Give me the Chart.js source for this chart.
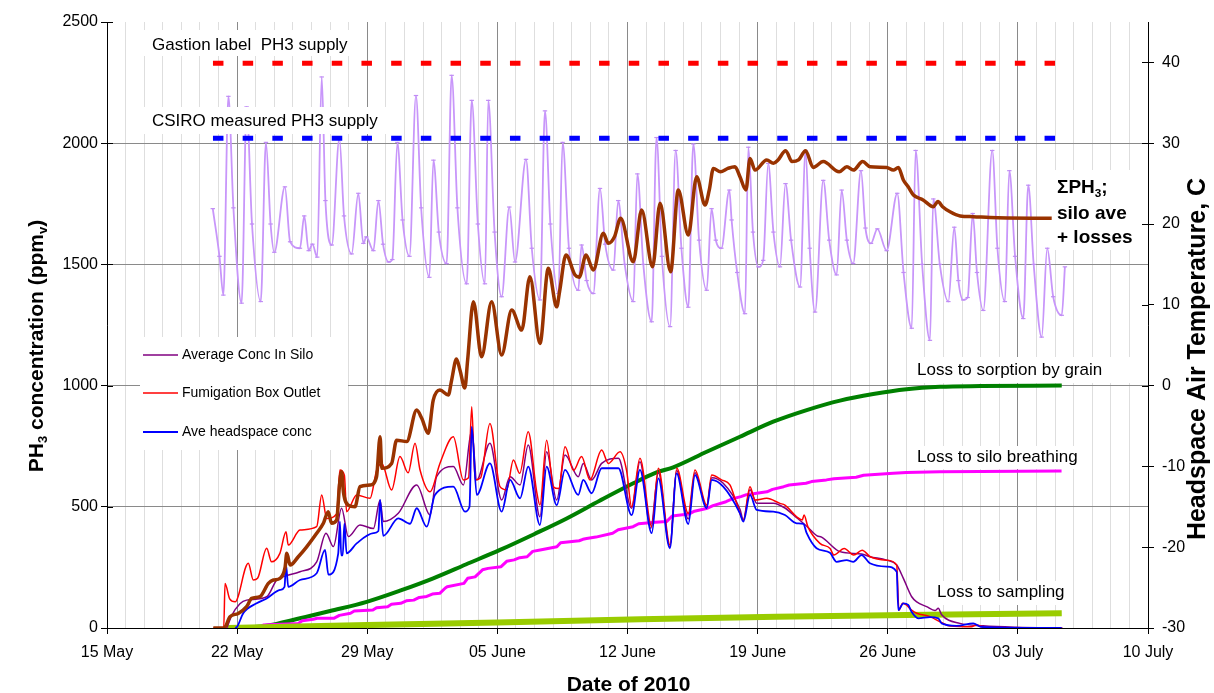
<!DOCTYPE html>
<html>
<head>
<meta charset="utf-8">
<title>PH3 silo fumigation 2010</title>
<script src="https://cdn.jsdelivr.net/npm/chart.js@4.4.1/dist/chart.umd.min.js"></script>
<style>
  html, body { margin: 0; padding: 0; background: #fff; }
  #wrap { width: 1214px; height: 693px; position: relative; }
</style>
</head>
<body>
<div id="wrap"><canvas id="c" width="1214" height="693"></canvas></div>
<script>
// ---- axis ticks (x values are days after 15 May 2010) ----
const dateTicks = ['15 May', '22 May', '29 May', '05 June', '12 June', '19 June', '26 June', '03 July', '10 July'];
const concTicks = [0, 500, 1000, 1500, 2000, 2500];
const tempTicks = [-30, -20, -10, 0, 10, 20, 30, 40];

// ---- phosphine supply levels (ppm) and the period they span ----
const gastionSupply = 2330;
const csiroSupply = 2020;
const supplySpan = [5.7, 51.0];

// ---- headspace air temperature, C  [day, value] ----
const temperature = [
  [5.69,21.9],[6.05,16.0],[6.26,11.2],
  [6.53,35.8],[6.8,22.0],[7.24,10.2],
  [7.51,34.5],[7.8,20.0],[8.27,10.4],
  [8.55,30.1],[8.8,20.0],[9.0,16.5],
  [9.57,24.6],[9.85,17.8],[10.38,17.0],
  [10.61,21.0],[10.85,16.7],[11.05,17.5],[11.31,15.9],
  [11.55,38.2],[11.75,22.9],[12.09,17.4],
  [12.5,30.6],[12.75,21.0],[13.16,16.3],
  [13.52,23.8],[13.79,17.6],[13.95,18.4],[14.33,16.7],
  [14.6,22.9],[14.85,17.5],[15.15,15.3],[15.35,15.6],
  [15.62,30.1],[15.9,20.5],[16.27,16.0],
  [16.62,35.9],[16.9,22.0],[17.34,13.4],
  [17.56,27.9],[17.85,19.0],[18.27,15.1],
  [18.54,38.4],[18.85,22.0],[19.35,12.6],
  [19.62,35.3],[19.95,20.0],[20.33,12.6],
  [20.51,35.3],[20.85,19.0],[21.23,11.0],
  [21.64,22.1],[21.95,15.3],
  [22.54,28.0],[22.85,17.0],[23.29,10.6],
  [23.56,34.0],[23.85,20.0],[24.28,11.4],
  [24.51,30.1],[24.85,17.0],[25.35,11.8],
  [25.53,17.4],[25.8,13.0],[26.16,11.4],
  [26.52,24.4],[26.8,17.5],[27.24,14.3],
  [27.5,22.9],[27.85,15.0],[28.31,10.4],
  [28.53,26.2],[28.85,15.0],[29.3,7.9],
  [29.56,30.7],[29.85,16.0],[30.29,7.3],
  [30.59,29.1],[30.9,17.0],[31.27,9.7],
  [31.54,29.9],[31.85,18.0],[32.26,11.8],
  [32.52,21.9],[32.75,18.0],[33.05,17.0],
  [33.48,24.2],[33.6,20.5],[33.9,14.0],[34.32,8.9],
  [34.5,29.5],[34.75,19.0],[35.04,14.7],[35.3,15.5],
  [35.57,27.5],[35.85,19.0],[36.2,14.7],
  [36.5,25.0],[36.8,18.0],[37.28,12.2],
  [37.58,29.1],[37.8,17.0],[38.09,9.1],
  [38.53,25.4],[38.85,18.0],[39.25,13.7],
  [39.52,24.2],[39.8,18.0],[40.14,15.1],
  [40.56,26.6],[40.8,19.5],[41.1,17.6],
  [41.44,19.4],[41.94,16.7],
  [42.51,23.8],[42.85,14.0],[43.29,7.1],
  [43.5,29.1],[43.85,15.0],[44.27,5.6],
  [44.45,23.1],[44.8,15.0],[45.26,10.4],
  [45.58,19.6],[45.8,13.0],[46.06,10.6],[46.3,10.9],
  [46.57,21.3],[46.8,14.0],[47.14,9.3],
  [47.62,29.1],[47.9,17.0],[48.3,10.4],
  [48.54,26.6],[48.85,16.0],[49.29,8.3],
  [49.56,24.8],[49.85,15.0],[50.28,6.0],
  [50.58,17.0],[50.9,11.0],[51.36,8.7],
  [51.53,14.7]
];

// ---- sum of PH3: silo average + losses (ppm) ----
const sumPH3 = [
  [5.72,0],[6.3,0],[6.62,47],[7.06,60],[7.51,88],[7.78,122],[8.23,129],[8.68,184],[8.95,198],
  [9.31,205],[9.58,250],[9.67,308],[9.85,260],[10.29,294],[10.74,335],[11.28,391],[11.64,432],
  [11.9,480],[12.08,432],[12.35,445],[12.52,600],[12.62,645],[12.72,560],[12.98,507],[13.34,500],
  [13.61,583],[14.15,590],[14.5,624],[14.69,789],[14.78,659],[15.31,679],[15.58,775],[16.12,769],
  [16.66,899],[16.93,865],[17.28,803],[17.55,940],[17.91,982],[18.36,961],[18.54,1023],[18.8,1110],
  [19.0,1060],[19.25,990],[19.4,1105],[19.71,1346],[20.15,1119],[20.69,1346],[21.23,1126],
  [21.77,1312],[22.31,1229],[22.75,1449],[23.29,1174],[23.74,1484],[24.19,1325],[24.35,1390],
  [24.69,1539],[25.18,1456],[25.4,1447],[25.77,1539],[26.16,1477],[26.7,1628],[26.97,1587],
  [27.3,1614],[27.63,1690],[28.31,1511],[28.76,1724],[29.35,1490],[29.75,1752],[30.32,1470],
  [30.73,1807],[31.27,1621],[31.72,1862],[32.17,1745],[32.4,1807],[32.62,1896],[33.0,1882],
  [33.4,1896],[33.78,1903],[34.05,1862],[34.37,1807],[34.59,1937],[34.86,1889],[35.49,1931],
  [35.85,1917],[36.1,1931],[36.51,1969],[36.85,1924],[37.2,1931],[37.58,1969],[37.99,1900],
  [38.53,1924],[39.39,1882],[39.8,1903],[40.15,1889],[40.65,1924],[41.05,1903],[41.94,1900],
  [42.3,1889],[42.57,1900],[42.84,1848],[43.1,1820],[43.38,1786],[43.9,1766],[44.45,1738],
  [44.7,1759],[44.95,1738],[45.35,1717],[45.89,1700],[46.6,1697],[47.5,1693],[50.82,1690]
];

// ---- measured concentrations (ppm) ----
const avgConcSilo = [
  [6.45,0],[6.7,50],[7.15,100],[7.51,115],[8.59,129],[9.13,198],[9.49,212],[10.38,232],[11.28,273],
  [11.78,391],[12.18,336],[12.62,494],[12.98,377],[13.61,425],[14.33,410],[14.69,528],[14.86,439],
  [15.67,473],[16.66,590],[17.38,466],[17.73,624],[18.63,666],[19.17,590],[19.62,817],[19.89,611],
  [20.6,762],[21.23,528],[21.68,624],[22.22,590],[22.66,755],[23.29,459],[23.65,727],[24.19,528],
  [24.64,714],[25.35,624],[25.62,679],[26.07,611],[26.61,679],[27.51,700],[28.22,494],[28.67,686],
  [29.25,411],[29.66,640],[30.28,335],[30.64,650],[31.27,450],[31.63,640],[32.26,500],[32.53,620],
  [33.15,597],[34.05,490],[34.23,445],[34.59,570],[34.95,515],[35.84,515],[36.47,495],[37.1,455],
  [37.64,420],[38.2,380],[38.44,375],[39.43,315],[40.6,305],[41.04,294],[41.94,280],[42.48,260],
  [42.84,205],[43.29,129],[43.56,108],[44.09,88],[44.54,72],[44.72,81],[44.9,55],[45.88,19],
  [47.13,9],[48.93,3],[51.4,0]
];
const boxOutlet = [
  [5.72,0],[6.28,0],[6.35,184],[6.6,120],[6.89,108],[7.6,267],[7.87,198],[8.1,205],[8.59,329],
  [8.85,273],[9.3,308],[9.63,397],[9.75,342],[10.38,404],[11.28,418],[11.55,549],[11.82,452],
  [12.35,470],[12.53,652],[12.77,630],[12.89,480],[13.43,549],[14.15,535],[14.51,652],[14.78,679],
  [15.31,569],[15.76,707],[16.2,640],[16.57,762],[16.84,652],[17.38,562],[17.91,679],[18.63,789],
  [19.17,611],[19.45,620],[19.62,913],[19.8,611],[20.1,620],[20.6,844],[21.14,583],[21.5,570],
  [21.86,693],[22.2,638],[22.66,810],[23.1,569],[23.29,507],[23.65,775],[24.01,583],[24.3,575],
  [24.64,748],[25.1,650],[25.53,707],[25.98,611],[26.61,734],[26.97,679],[27.6,727],[27.95,650],
  [28.22,500],[28.67,700],[29.3,418],[29.66,659],[30.29,342],[30.65,659],[31.27,473],[31.63,652],
  [32.26,507],[32.53,631],[33.06,611],[33.51,590],[33.87,514],[34.23,446],[34.59,583],[34.86,528],
  [35.49,535],[36.2,514],[36.47,507],[37.1,459],[37.4,446],[37.5,466],[37.7,418],[38.35,349],
  [38.9,328],[39.1,301],[39.66,328],[40.17,301],[40.62,321],[41.06,294],[41.94,280],[42.48,260],
  [42.6,74],[42.8,102],[43.0,95],[43.28,74],[43.56,61],[44.27,47],[44.81,26],[45.35,8],[46.5,5],
  [46.78,12],[47.2,2],[51.36,0]
];
const headspaceConc = [
  [6.9,0],[7.0,5],[7.33,61],[8.05,102],[8.59,122],[9.31,157],[9.55,170],[9.63,260],[9.75,170],
  [10.38,198],[11.28,226],[11.73,322],[11.91,220],[12.44,308],[12.53,439],[12.6,300],[12.68,300],
  [12.77,430],[12.89,308],[13.43,349],[14.33,391],[14.6,400],[14.69,528],[14.86,380],[15.67,452],
  [16.3,430],[16.66,494],[17.2,418],[17.64,549],[18.63,583],[19.26,480],[19.5,500],[19.62,831],
  [19.89,549],[20.6,679],[21.23,480],[21.68,611],[22.22,535],[22.66,666],[23.29,425],[23.65,666],
  [24.19,507],[24.64,652],[25.35,549],[25.62,611],[26.07,556],[26.61,659],[27.51,659],[28.22,466],
  [28.67,652],[29.3,391],[29.66,617],[30.28,329],[30.64,638],[31.27,429],[31.63,631],[32.26,494],
  [32.53,611],[33.15,583],[34.05,473],[34.23,439],[34.59,549],[34.95,487],[35.84,480],[36.47,466],
  [37.1,432],[37.46,430],[37.64,391],[38.17,329],[38.89,310],[39.25,273],[39.79,280],[40.15,273],
  [40.59,301],[41.04,267],[41.94,253],[42.48,232],[42.57,74],[42.84,102],[43.1,95],[43.28,67],
  [43.64,40],[44.27,45],[44.72,40],[44.9,19],[45.7,9],[46.6,19],[47.0,5],[51.35,0]
];

// ---- loss terms (ppm) ----
const lossSorption = [
  [7.0,0],[8.5,8],[10.38,40],[12.0,70],[13.97,108],[15.8,155],[17.55,205],[19.3,262],[21.14,322],
  [23.0,388],[24.73,452],[26.5,525],[28.31,597],[29.5,640],[30.46,663],[32.26,727],[34.05,789],
  [35.84,851],[37.64,899],[39.43,938],[41.22,965],[43.01,985],[44.81,995],[47.0,998],[51.36,1000]
];
const lossBreathing = [
  [6.9,0],[8.2,0],[8.4,12],[10.3,19],[10.5,30],[11.1,36],[11.3,40],[12.2,40],[12.5,52],[13.1,61],
  [13.3,70],[14.3,74],[14.5,84],[15.1,88],[15.3,98],[15.8,102],[16.1,112],[16.5,115],[16.8,126],
  [17.2,130],[17.5,140],[17.9,143],[18.2,165],[18.3,170],[19.2,184],[19.4,205],[19.8,211],
  [20.2,240],[20.5,246],[21.2,253],[21.5,275],[21.9,281],[22.2,290],[22.6,294],[22.9,316],
  [23.3,322],[24.2,335],[24.4,352],[25.4,360],[25.6,366],[25.8,369],[26.3,375],[27.2,391],
  [27.5,405],[28.3,418],[28.6,430],[29.5,436],[30.1,439],[30.4,462],[31.3,470],[31.6,482],
  [32.3,494],[32.6,505],[33.3,521],[33.6,532],[34.1,542],[34.4,550],[35.5,562],[35.8,572],
  [36.4,583],[36.7,590],[37.6,597],[37.9,604],[38.7,611],[39.1,616],[40.3,622],[40.7,630],
  [42.3,638],[43.0,642],[44.8,645],[51.35,648]
];
const lossSampling = [
  [6.5,0],[14.0,12],[21.0,23],[28.7,36],[36.0,46],[43.0,54],[51.36,61]
];

// ---- text ----
const legendNames = ['Average Conc In Silo', 'Fumigation Box Outlet', 'Ave headspace conc'];
const FONT = "'Liberation Sans', Arial, Helvetica, sans-serif";

const xy = a => a.map(p => ({ x: p[0], y: p[1] }));
const line = (data, color, width, axis, order, extra) => Object.assign({
  data: xy(data), borderColor: color, backgroundColor: color, borderWidth: width,
  pointRadius: 0, yAxisID: axis, order: order, fill: false,
  cubicInterpolationMode: 'monotone', borderJoinStyle: 'round'
}, extra || {});

const datasets = [
  line(sumPH3, '#993300', 3.5, 'y', 0, { label: 'ΣPH3' }),
  line([[supplySpan[0], gastionSupply], [supplySpan[1], gastionSupply]], '#ff0000', 5, 'y', 1,
       { label: 'Gastion label PH3 supply', borderDash: [10.5, 19.2], borderCapStyle: 'butt' }),
  line([[supplySpan[0], csiroSupply], [supplySpan[1], csiroSupply]], '#0000ff', 5, 'y', 1,
       { label: 'CSIRO measured PH3 supply', borderDash: [10.5, 19.2], borderCapStyle: 'butt' }),
  line(headspaceConc, '#0000ff', 1.8, 'y', 2, { label: legendNames[2] }),
  line(boxOutlet, '#ff0000', 1.5, 'y', 3, { label: legendNames[1] }),
  line(avgConcSilo, '#800080', 1.5, 'y', 4, { label: legendNames[0] }),
  line(lossSampling, '#99cc00', 6, 'y', 5, { label: 'Loss to sampling', cubicInterpolationMode: 'default' }),
  line(lossBreathing, '#ff00ff', 3, 'y', 5, { label: 'Loss to silo breathing', cubicInterpolationMode: 'default' }),
  line(lossSorption, '#008000', 4, 'y', 5, { label: 'Loss to sorption by grain' }),
  line(temperature, '#c896fa', 1.8, 'y2', 6, {
    label: 'Headspace Air Temperature', pointRadius: 2.2, pointStyle: 'line',
    pointBorderWidth: 1.2, pointBorderColor: '#c08cf5'
  })
];

// draws a string made of normal and subscript pieces
function richText(ctx, parts, x, y, size, bold, align) {
  const f = s => (bold ? 'bold ' : '') + s + 'px ' + FONT;
  let total = 0;
  parts.forEach(([t, sub]) => { ctx.font = f(sub ? size * 0.62 : size); total += ctx.measureText(t).width; });
  let cx = align === 'center' ? x - total / 2 : x;
  ctx.textBaseline = 'alphabetic';
  ctx.textAlign = 'left';
  parts.forEach(([t, sub]) => {
    ctx.font = f(sub ? size * 0.62 : size);
    ctx.fillText(t, cx, y + (sub ? size * 0.2 : 0));
    cx += ctx.measureText(t).width;
  });
}

function whiteBox(ctx, x0, y0, x1, y1) {
  ctx.fillStyle = '#ffffff';
  ctx.fillRect(x0, y0, x1 - x0, y1 - y0);
}

const annotations = {
  id: 'annotations',
  afterDatasetsDraw(chart) {
    const ctx = chart.ctx;
    const sy = chart.scales.y, sy2 = chart.scales.y2;
    const area = chart.chartArea;
    ctx.save();

    // label backgrounds
    whiteBox(ctx, 143, 30, 363, 56);
    whiteBox(ctx, 143, 107, 386, 134);
    whiteBox(ctx, 140, 337, 348, 450);
    whiteBox(ctx, area.right - 96, 170, area.right - 1, 250);
    whiteBox(ctx, 908, 357, area.right - 1, 383);
    whiteBox(ctx, 908, 446, 1090, 469);
    whiteBox(ctx, 930, 581, 1070, 605);

    ctx.fillStyle = '#000';
    ctx.textBaseline = 'middle';
    ctx.textAlign = 'left';
    ctx.font = '17px ' + FONT;
    ctx.fillText('Gastion label  PH3 supply', 152, 45);
    ctx.fillText('CSIRO measured PH3 supply', 152, 121);
    ctx.fillText('Loss to sorption by grain', 917, 370);
    ctx.fillText('Loss to silo breathing', 917, 457);
    ctx.fillText('Loss to sampling', 937, 592);

    // ΣPH3 label
    ctx.fillStyle = '#000';
    richText(ctx, [['ΣPH', 0], ['3', 1], [';', 0]], 1057, 193, 19, true, 'left');
    ctx.font = 'bold 19px ' + FONT;
    ctx.textBaseline = 'alphabetic';
    ctx.fillText('silo ave', 1057, 219);
    ctx.fillText('+ losses', 1057, 243);

    // legend
    const legendColors = ['#800080', '#ff0000', '#0000ff'];
    const legendWidths = [1.5, 1.5, 2];
    const rows = [355, 393, 432];
    ctx.font = '14px ' + FONT;
    ctx.textBaseline = 'middle';
    rows.forEach((ry, i) => {
      ctx.strokeStyle = legendColors[i];
      ctx.lineWidth = legendWidths[i];
      ctx.beginPath(); ctx.moveTo(143, ry); ctx.lineTo(178, ry); ctx.stroke();
      ctx.fillStyle = '#000';
      ctx.fillText(legendNames[i], 182, ry);
    });

    // inner halves of the cross-style tick marks
    ctx.strokeStyle = '#000';
    ctx.lineWidth = 1;
    concTicks.forEach(v => {
      const py = Math.round(sy.getPixelForValue(v)) + 0.5;
      ctx.beginPath(); ctx.moveTo(area.left, py); ctx.lineTo(area.left + 6, py); ctx.stroke();
    });
    tempTicks.forEach(v => {
      const py = Math.round(sy2.getPixelForValue(v)) + 0.5;
      ctx.beginPath(); ctx.moveTo(area.right - 6, py); ctx.lineTo(area.right, py); ctx.stroke();
    });

    // axis titles
    ctx.fillStyle = '#000';
    ctx.save();
    ctx.translate(36, 346);
    ctx.rotate(-Math.PI / 2);
    richText(ctx, [['PH', 0], ['3', 1], [' concentration (ppm', 0], ['v', 1], [')', 0]], 0, 7, 21, true, 'center');
    ctx.restore();
    ctx.save();
    ctx.translate(1196, 359);
    ctx.rotate(-Math.PI / 2);
    richText(ctx, [['Headspace Air Temperature, C', 0]], 0, 9, 25, true, 'center');
    ctx.restore();
    richText(ctx, [['Date of 2010', 0]], (area.left + area.right) / 2 + 1, 691, 21, true, 'center');

    ctx.restore();
  }
};

const dayGrid = Array.from({ length: 57 }, (_, i) => i);
const tickFont = { family: FONT, size: 16 };

new Chart(document.getElementById('c'), {
  type: 'line',
  data: { datasets },
  plugins: [annotations],
  options: {
    responsive: false,
    animation: false,
    devicePixelRatio: 1,
    layout: { padding: { top: 22, left: 0, right: 0, bottom: 0 } },
    plugins: { legend: { display: false }, tooltip: { enabled: false } },
    elements: { line: { tension: 0 } },
    scales: {
      x: {
        type: 'linear', min: 0, max: 56,
        afterBuildTicks: s => { s.ticks = dayGrid.map(v => ({ value: v })); },
        afterFit: s => { s.height = 65; },
        ticks: {
          autoSkip: false, maxRotation: 0, minRotation: 0, color: '#000', font: tickFont, padding: 9,
          callback: v => (v % 7 === 0 ? dateTicks[v / 7] : '')
        },
        grid: {
          color: c => (c.tick && c.tick.value % 7 === 0 ? '#8a8a8a' : '#dedede'),
          tickColor: c => (c.tick && c.tick.value % 7 === 0 ? '#000' : 'rgba(0,0,0,0)'),
          tickLength: 6, lineWidth: 1
        },
        border: { color: '#000', width: 1 }
      },
      y: {
        type: 'linear', position: 'left', min: 0, max: 2500,
        afterBuildTicks: s => { s.ticks = concTicks.map(v => ({ value: v })); },
        afterFit: s => { s.width = 107; },
        ticks: { color: '#000', font: tickFont, padding: 3, callback: v => String(v) },
        grid: {
          color: c => (c.tick && (c.tick.value === 0 || c.tick.value === 2500) ? 'rgba(0,0,0,0)' : '#8a8a8a'),
          tickColor: '#000', tickLength: 6, lineWidth: 1
        },
        border: { color: '#000', width: 1 }
      },
      y2: {
        type: 'linear', position: 'right', min: -30, max: 45,
        afterBuildTicks: s => { s.ticks = tempTicks.map(v => ({ value: v })); },
        afterFit: s => { s.width = 66; },
        ticks: { color: '#000', font: tickFont, padding: 8, callback: v => String(v) },
        grid: { drawOnChartArea: false, tickColor: '#000', tickLength: 6 },
        border: { color: '#000', width: 1 }
      }
    }
  }
});
</script>
</body>
</html>
